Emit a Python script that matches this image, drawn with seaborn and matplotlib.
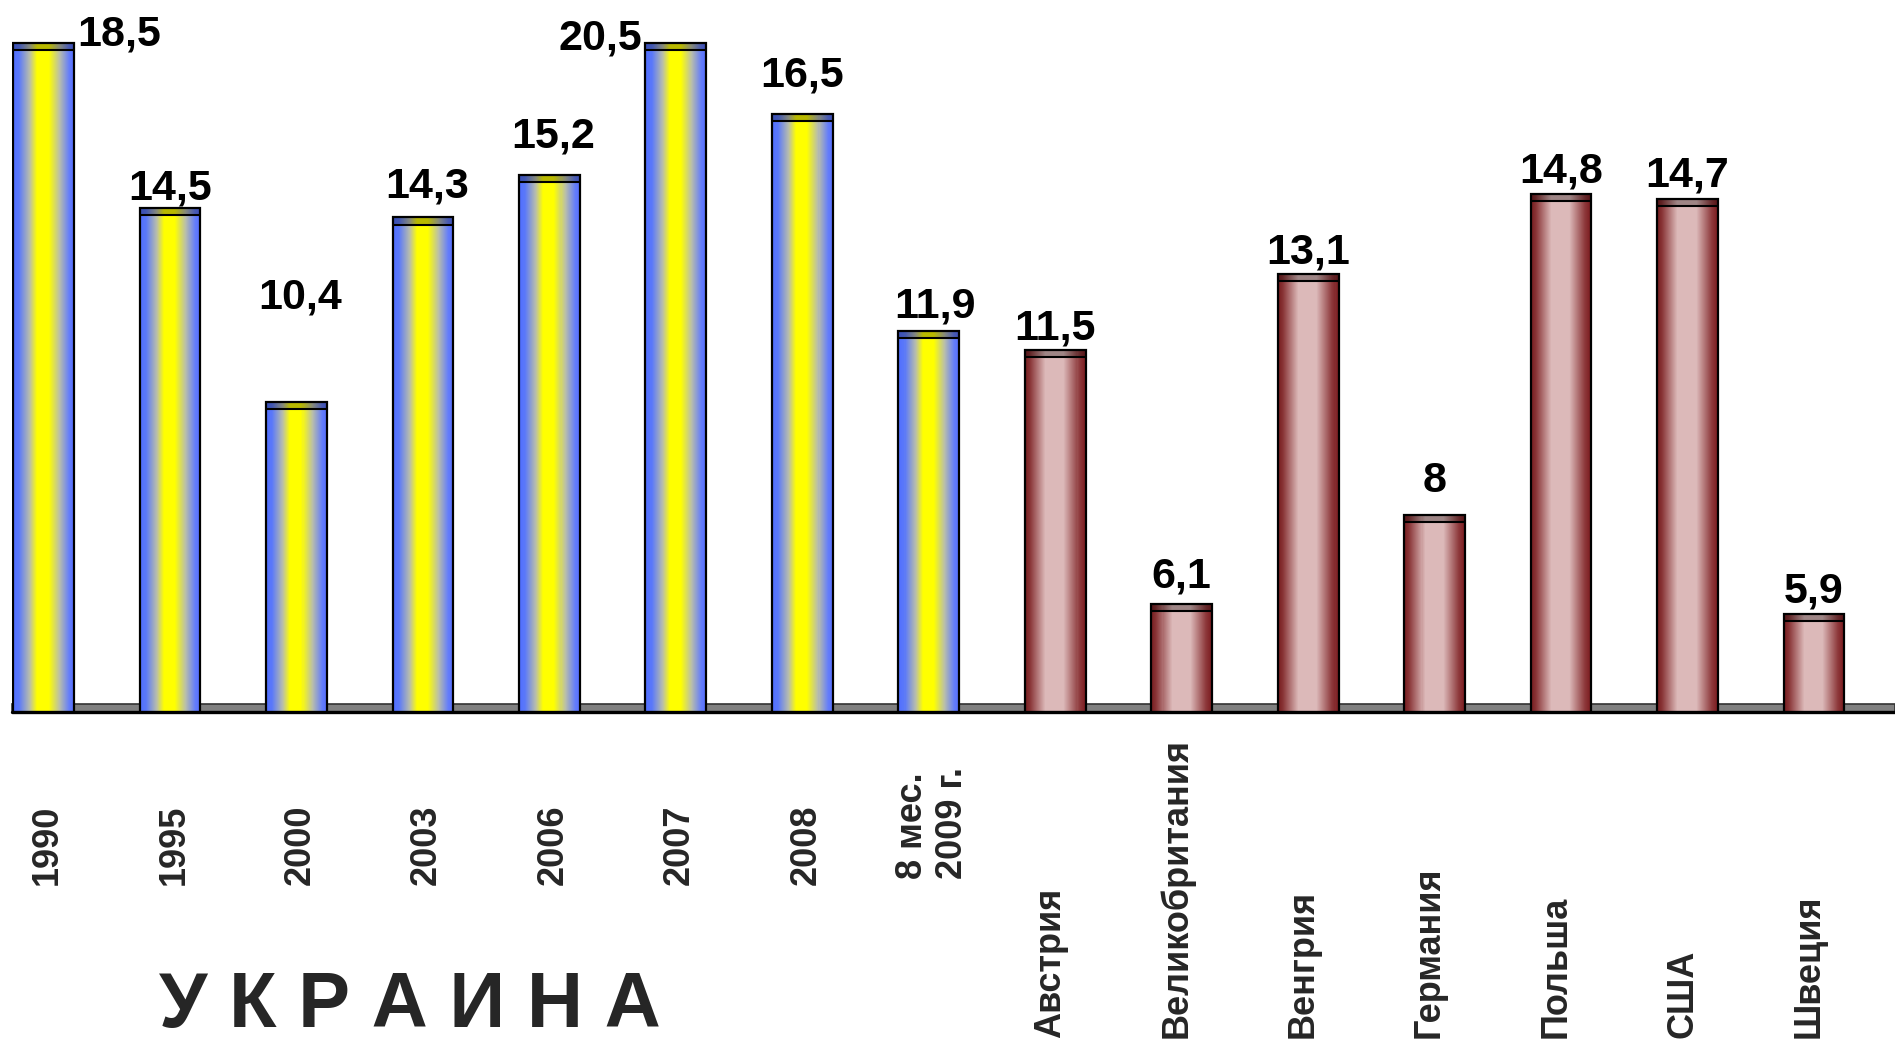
import numpy as np
import pandas as pd
import matplotlib
matplotlib.use("Agg")
import matplotlib.pyplot as plt
import seaborn as sns
from matplotlib import transforms
from matplotlib.patches import Rectangle

# ---------------- data ----------------
categories = ['1990', '1995', '2000', '2003', '2006', '2007', '2008', '8 мес.\n2009 г.',
              'Австрия', 'Великобритания', 'Венгрия', 'Германия', 'Польша', 'США', 'Швеция']
values = [18.5, 14.5, 10.4, 14.3, 15.2, 20.5, 16.5, 11.9,
          11.5, 6.1, 13.1, 8.0, 14.8, 14.7, 5.9]
groups = ['Украина'] * 8 + ['Другие страны'] * 7
big_label = 'У К Р А И Н А'

# ---------------- layout (label placement, not data) ----------------
label_dx = [0.6, 0.0, 0.03, 0.03, 0.03, -0.6, 0.0, 0.05, 0.0, 0.0, 0.0, 0.0, 0.0, 0.0, 0.0]
label_base = [17.95, 14.68, 12.38, 14.73, 15.78, 17.87, 17.08, 12.18,
              11.72, 6.45, 13.33, 8.48, 15.04, 14.96, 6.13]

YMIN, YMAX = 3.82, 18.04
CLIP_TOP = 18.0
CAP_H = 0.15
NSLICE = 60

sns.set_style("white")
plt.rcParams['font.family'] = ['Liberation Sans', 'DejaVu Sans']
plt.rcParams['font.weight'] = 'bold'

W, H = 1895, 1042
fig = plt.figure(figsize=(W / 100, H / 100), dpi=100)
ax = fig.add_axes([12 / W, 1 - 712 / H, 1 - 12 / W, 671 / H])

shown = np.minimum(np.array(values), CLIP_TOP)
df = pd.DataFrame({'cat': categories, 'val': shown, 'grp': groups})
sns.barplot(data=df, x='cat', y='val', hue='grp', order=categories,
            hue_order=['Украина', 'Другие страны'],
            palette={'Украина': '#5a78ff', 'Другие страны': '#9a3a3a'},
            dodge=False, width=0.48, edgecolor='black', linewidth=1.6,
            legend=False, ax=ax, zorder=3)


def gradient(stops, n):
    pos = np.array([s[0] for s in stops])
    cols = np.array([s[1] for s in stops], dtype=float) / 255.0
    xs = (np.arange(n) + 0.5) / n
    return np.stack([np.interp(xs, pos, cols[:, c]) for c in range(3)], axis=-1)


blue_grad = gradient([(0.0, (80, 110, 255)), (0.1, (90, 120, 250)), (0.28, (185, 190, 170)),
                      (0.4, (255, 255, 0)), (0.58, (255, 255, 0)), (0.76, (185, 190, 170)),
                      (0.92, (100, 125, 250)), (1.0, (85, 110, 255))], NSLICE)
red_grad = gradient([(0.0, (118, 26, 30)), (0.08, (135, 50, 52)), (0.34, (220, 185, 185)),
                     (0.64, (220, 185, 185)), (0.9, (140, 55, 58)), (1.0, (122, 26, 30))], NSLICE)

for patch in list(ax.patches):
    x0 = patch.get_x()
    w = patch.get_width()
    h = patch.get_height()
    if w <= 0 or h <= 0:
        continue
    idx = int(round(x0 + w / 2))
    g = blue_grad if groups[idx] == 'Украина' else red_grad
    patch.set_facecolor('none')
    sw = w / NSLICE
    lefts = x0 + np.arange(NSLICE) * sw
    # body slices
    ax.bar(lefts, h - CAP_H - YMIN, width=sw * 1.08, bottom=YMIN, align='edge',
           color=g, linewidth=0, antialiased=False, zorder=2)
    # darker cap slices
    ax.bar(lefts, CAP_H, width=sw * 1.08, bottom=h - CAP_H, align='edge',
           color=np.clip(g * 0.72, 0, 1), linewidth=0, antialiased=False, zorder=2)
    ax.plot([x0, x0 + w], [h - CAP_H, h - CAP_H], color='black', lw=1.5,
            zorder=3.5, solid_capstyle='butt')

# floor band
ax.add_patch(Rectangle((0, 0), 1, 8 / 671, transform=ax.transAxes,
                       facecolor='#808080', edgecolor='#333333', lw=1.2,
                       zorder=1, clip_on=False))
ax.plot([0, 1], [0, 0], transform=ax.transAxes, color='black', lw=2.4,
        zorder=4, clip_on=False)

# value labels
for i, v in enumerate(values):
    txt = f"{v:g}".replace('.', ',')
    ax.text(i + label_dx[i], label_base[i], txt, ha='center', va='baseline',
            fontsize=31, fontweight='bold', color='black', clip_on=False, zorder=5)

# category labels
trans = transforms.blended_transform_factory(ax.transData, fig.transFigure)
for i, c in enumerate(categories):
    if groups[i] == 'Украина':
        y = 1 - (879 if '\n' in c else 885) / H
        dx = 0.03
    else:
        y = 1 - 1038 / H
        dx = -0.04
    ax.text(i + dx, y, c, transform=trans, rotation=90, ha='center', va='bottom',
            fontsize=26, fontweight='bold', multialignment='left',
            linespacing=1.2, clip_on=False)

fig.text(410 / W, 1 - 1027 / H, big_label, ha='center', va='baseline',
         fontsize=56, fontweight='bold')

ax.set_xlim(-0.249, 14.64)
ax.set_ylim(YMIN, YMAX)
ax.set_xticks([])
ax.set_yticks([])
ax.set_xlabel('')
ax.set_ylabel('')
for s in ax.spines.values():
    s.set_visible(False)
ax.patch.set_alpha(0)

fig.savefig('out.png', dpi=100)
